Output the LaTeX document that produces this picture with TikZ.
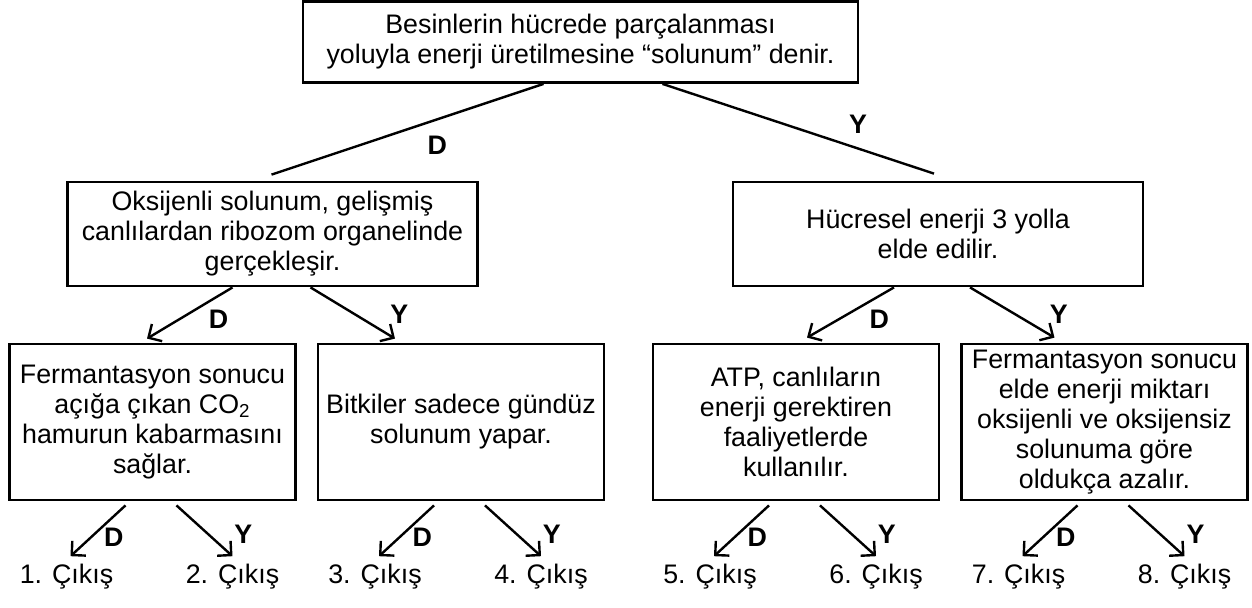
\documentclass[tikz,border=0pt]{standalone}
\usepackage{fontspec}
\setmainfont{Liberation Sans}
\usetikzlibrary{arrows.meta,positioning,calc}

\begin{document}
\begin{tikzpicture}[x=0.5pt, y=-0.5pt, >={Straight Barb[length=5pt,width=10pt]},
  every node/.style={font=\fontsize{13.4}{15}\selectfont},
  box/.style={draw, line width=1.4pt, align=center, inner sep=2pt},
  wide/.style={box, minimum width=205pt, minimum height=52pt},
  narrow/.style={box, minimum width=143pt, minimum height=78pt},
  conn/.style={line width=1.2pt},
  lbl/.style={font=\fontsize{13.4}{15}\selectfont\bfseries, inner sep=0pt},
  exit/.style={anchor=base, inner sep=0pt}]

\useasboundingbox (0,0) rectangle (1252,607);

% question boxes
\node [box, minimum width=277.5pt, minimum height=40.5pt] (top) at (580.5,42)
  {Besinlerin hücrede parçalanması\\yoluyla enerji üretilmesine “solunum” denir.};

\node [wide] (oksi) at (272.5,234)
  {Oksijenli solunum, gelişmiş\\canlılardan ribozom organelinde\\gerçekleşir.};
\node [wide] (hucre) at (938,234)
  {Hücresel enerji 3 yolla\\elde edilir.};

\foreach \m/\x/\t in {1/152.5/{Fermantasyon sonucu\\açığa çıkan CO\textsubscript{2}\\hamurun kabarmasını\\sağlar.},
                      2/461/{Bitkiler sadece gündüz\\solunum yapar.},
                      3/796/{ATP, canlıların\\enerji gerektiren\\faaliyetlerde\\kullanılır.},
                      4/1104.5/{Fermantasyon sonucu\\elde enerji miktarı\\oksijenli ve oksijensiz\\solunuma göre\\oldukça azalır.}}
  \node [narrow] (case-\m) at (\x,422) {\t};

% exits under each case
\foreach \m/\x in {1/152.5,2/461,3/796,4/1104.5}{
  \pgfmathtruncatemacro\d{2*\m-1}
  \pgfmathtruncatemacro\e{2*\m}
  \node [exit] (exit-\d) at (\x-86,583) {\d. Çıkış};
  \node [exit] (exit-\e) at (\x+80,583) {\e. Çıkış};
}

% first split
\draw [conn] ($(top.south)+(-37,0)$) -- ($(oksi.north)+(-1,-6)$)
  node [lbl, pos=0.39, yshift=-13pt] {D};
\draw [conn] ($(top.south)+(82,0)$) -- ($(hucre.north)+(-4,-7)$)
  node [lbl, pos=0.72, yshift=12pt] {Y};

% second split
\draw [conn, ->] ($(oksi.south)+(-40,0)$) -- ($(case-1.north)+(-5.5,-4)$)
  node [lbl, pos=0.63, xshift=20pt] {D};
\draw [conn, ->] ($(oksi.south)+(38,0)$) -- ($(case-2.north)+(-66,-4)$)
  node [lbl, pos=0.53, xshift=22pt] {Y};
\draw [conn, ->] ($(hucre.south)+(-44,0)$) -- ($(case-3.north)+(11,-5)$)
  node [lbl, pos=0.63, xshift=20pt] {D};
\draw [conn, ->] ($(hucre.south)+(32,0)$) -- ($(case-4.north)+(-50,-5)$)
  node [lbl, pos=0.53, xshift=22pt] {Y};

% last split
\foreach \m in {1,...,4}{
  \pgfmathtruncatemacro\d{2*\m-1}
  \pgfmathtruncatemacro\e{2*\m}
  \draw [conn, ->] ($(case-\m.south)+(-27,4)$) -- ($(exit-\d.north)+(4,-7)$)
    node [lbl, pos=0.63, xshift=11.5pt] {D};
  \draw [conn, ->] ($(case-\m.south)+(24,4)$) -- ($(exit-\e.north)+(0,-7)$)
    node [lbl, pos=0.57, xshift=17.5pt] {Y};
}

\end{tikzpicture}
\end{document}
